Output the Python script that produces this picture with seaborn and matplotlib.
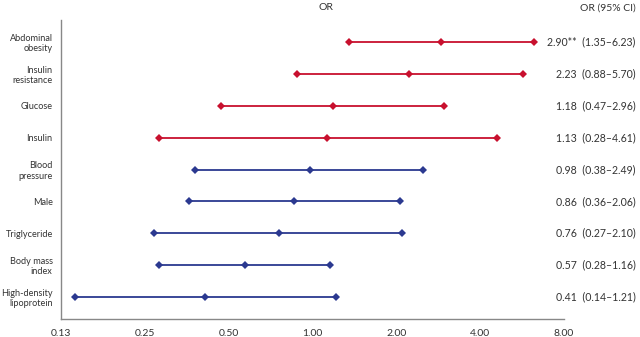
import matplotlib
matplotlib.use("Agg")
import matplotlib.pyplot as plt
import seaborn as sns
import pandas as pd
import numpy as np

labels = ["Abdominal\nobesity", "Insulin\nresistance", "Glucose", "Insulin", "Blood\npressure",
          "Male", "Triglyceride", "Body mass\nindex", "High-density\nlipoprotein"]
or_vals = [2.90, 2.23, 1.18, 1.13, 0.98, 0.86, 0.76, 0.57, 0.41]
ci_low = [1.35, 0.88, 0.47, 0.28, 0.38, 0.36, 0.27, 0.28, 0.14]
ci_high = [6.23, 5.70, 2.96, 4.61, 2.49, 2.06, 2.10, 1.16, 1.21]
groups = ["red", "red", "red", "red", "blue", "blue", "blue", "blue", "blue"]
annot = ["2.90**  (1.35\u20136.23)", "2.23  (0.88\u20135.70)", "1.18  (0.47\u20132.96)",
         "1.13  (0.28\u20134.61)", "0.98  (0.38\u20132.49)", "0.86  (0.36\u20132.06)",
         "0.76  (0.27\u20132.10)", "0.57  (0.28\u20131.16)", "0.41  (0.14\u20131.21)"]
xticks = [0.125, 0.25, 0.5, 1, 2, 4, 8]
xticklabels = ["0.13", "0.25", "0.50", "1.00", "2.00", "4.00", "8.00"]

rows = []
for i, lab in enumerate(labels):
    for v in (ci_low[i], or_vals[i], ci_high[i]):
        rows.append({"row": i, "val": v, "group": groups[i], "label": lab})
df = pd.DataFrame(rows)

sns.set_style("white")
plt.rcParams["font.family"] = ["Lato", "DejaVu Sans"]

fig = plt.figure(figsize=(6.4, 3.37), dpi=100)
ax = fig.add_axes([61/640, 1-319/337, (564-61)/640, (319-20)/337])

palette = {"red": "#c8102e", "blue": "#2b3990"}
sns.lineplot(data=df, x="val", y="row", hue="group", units="label", estimator=None,
             sort=False, palette=palette, marker="D", markersize=4.5, markeredgewidth=0,
             linewidth=1.3, legend=False, ax=ax)

ax.set_xscale("log", base=2)
ax.set_xlim(0.125, 8)
ax.set_xticks(xticks)
ax.set_xticklabels(xticklabels)
ax.minorticks_off()
ax.set_ylim(8.69, -0.69)
ax.set_yticks(range(len(labels)))
ax.set_yticklabels(labels, multialignment="right", linespacing=1.15)
ax.set_xlabel("")
ax.set_ylabel("")
for s in ["top", "right"]:
    ax.spines[s].set_visible(False)
for s in ["left", "bottom"]:
    ax.spines[s].set_color("#888888")
    ax.spines[s].set_linewidth(1.0)
ax.tick_params(axis="both", which="major", length=4, width=0.8, color="#888888",
               labelsize=7.5, labelcolor="#333333", direction="out", pad=3)
ax.tick_params(axis="y", labelsize=6.6, pad=2)

fig.text(326/640, 1-8/337, "OR", ha="center", va="center", fontsize=7.5, color="#333333")
fig.text(636/640, 1-8/337, "OR (95% CI)", ha="right", va="center", fontsize=7.5, color="#333333")
for i, t in enumerate(annot):
    ax.annotate(t, xy=(1.0, i), xycoords=("figure fraction", "data"),
                xytext=(-3, 0), textcoords="offset points",
                ha="right", va="center", fontsize=7.6, color="#333333")

fig.savefig("out.png", dpi=100)
